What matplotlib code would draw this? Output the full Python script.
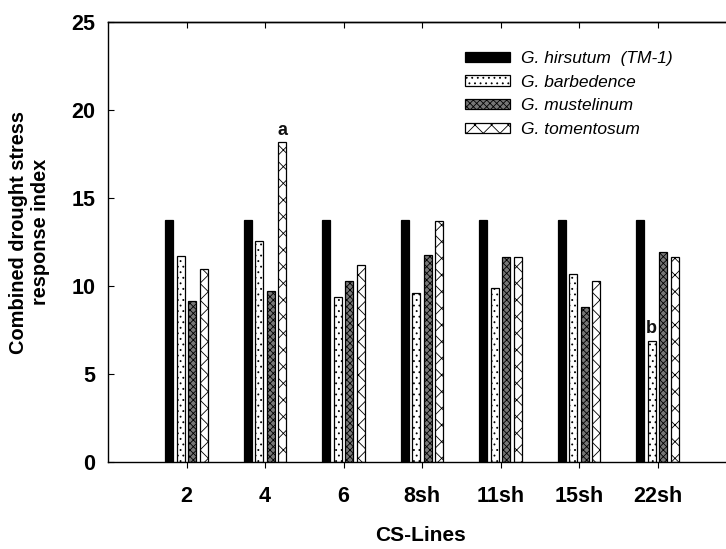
import matplotlib
matplotlib.use("Agg")
import matplotlib.pyplot as plt
import numpy as np

plt.rcParams['font.family'] = ['Liberation Sans', 'DejaVu Sans']
plt.rcParams['hatch.linewidth'] = 0.6

categories = ["2", "4", "6", "8sh", "11sh", "15sh", "22sh"]
series_names = ["G. hirsutum  (TM-1)", "G. barbedence", "G. mustelinum", "G. tomentosum"]
hirsutum = [13.75, 13.75, 13.75, 13.75, 13.75, 13.75, 13.75]
barbedence = [11.70, 12.54, 9.34, 9.58, 9.88, 10.66, 6.85]
mustelinum = [9.11, 9.71, 10.26, 11.76, 11.63, 8.80, 11.93]
tomentosum = [10.93, 18.15, 11.17, 13.66, 11.63, 10.26, 11.63]
annotations = {("G. tomentosum", "4"): "a", ("G. barbedence", "22sh"): "b"}

W, H = 726, 549
fig = plt.figure(figsize=(W / 100, H / 100), dpi=100)
left = 108 / W
bottom = (H - 461.5) / H
top = (H - 22) / H
width = 8 * 78.5 / W
ax = fig.add_axes([left, bottom, width, top - bottom])

x = np.arange(1, len(categories) + 1)
offsets = [-0.22, -0.073, 0.073, 0.22]
bw = 0.105
styles = [
    dict(facecolor='black', hatch=None),
    dict(facecolor='white', hatch='...'),
    dict(facecolor='#777777', hatch='xxxxx'),
    dict(facecolor='white', hatch='xx'),
]
data = [hirsutum, barbedence, mustelinum, tomentosum]
handles = []
for name, vals, off, st in zip(series_names, data, offsets, styles):
    b = ax.bar(x + off, vals, width=bw, facecolor=st['facecolor'], hatch=st['hatch'],
               edgecolor='black', linewidth=0.9, label=name, zorder=2)
    handles.append(b)
    for i, cat in enumerate(categories):
        key = (name, cat)
        if key in annotations:
            ax.text(x[i] + off, vals[i] + 0.45, annotations[key], ha='center', va='baseline',
                    fontsize=13, fontweight='bold', color='#111111')

ax.set_xlim(0, 8)
ax.set_ylim(0, 25)
ax.set_yticks([0, 5, 10, 15, 20, 25])
ax.set_xticks(x)
ax.set_xticklabels(categories)
ax.spines['right'].set_visible(False)
for s in ['left', 'top', 'bottom']:
    ax.spines[s].set_linewidth(1.0)
ax.tick_params(axis='y', direction='in', length=4, width=0.8, pad=9, labelsize=15.5)
ax.tick_params(axis='x', direction='out', length=4, width=0.8, pad=14, labelsize=15.5)
for lab in ax.get_xticklabels() + ax.get_yticklabels():
    lab.set_fontweight('bold')

# top ticks pointing inward
sec = ax.secondary_xaxis('top')
sec.set_xticks(x)
sec.set_xticklabels([])
sec.tick_params(direction='in', length=4, width=0.8)
sec.spines['top'].set_linewidth(1.0)

ax.set_xlabel("CS-Lines", fontsize=15, fontweight='bold', va='top')
ax.xaxis.set_label_coords(0.497, -0.147)
ax.set_ylabel("Combined drought stress\nresponse index", fontsize=14.4, fontweight='bold',
              linespacing=1.2)
ax.yaxis.set_label_coords(-0.092, 0.522)

leg = ax.legend(handles=handles, labels=series_names, loc='upper left',
                bbox_to_anchor=(465 / W, (H - 51) / H), bbox_transform=fig.transFigure,
                frameon=False, prop=dict(style='italic', size=12.5),
                handlelength=2.6, handleheight=0.55, handletextpad=0.65, labelspacing=0.5,
                borderaxespad=0, borderpad=0)

fig.savefig("out.png", dpi=100)
